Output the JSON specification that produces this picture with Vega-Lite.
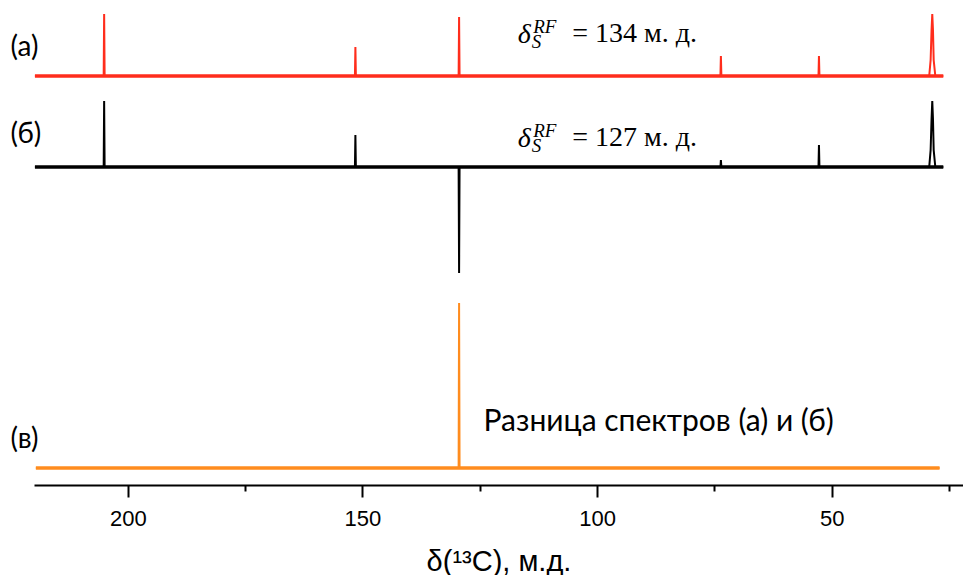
{
  "$schema": "https://vega.github.io/schema/vega-lite/v6.json",
  "width": 929,
  "height": 485,
  "autosize": {"type": "none"},
  "padding": {"left": 34, "top": 0, "right": 0, "bottom": 90},
  "background": "white",
  "config": {"view": {"stroke": null}},
  "datasets": {
    "spectra": [
      {"series": "a", "ppm": 219.8, "intensity": 409},
      {"series": "a", "ppm": 205.15, "intensity": 409},
      {"series": "a", "ppm": 205.05, "intensity": 471},
      {"series": "a", "ppm": 204.95, "intensity": 409},
      {"series": "a", "ppm": 151.6, "intensity": 409},
      {"series": "a", "ppm": 151.5, "intensity": 438},
      {"series": "a", "ppm": 151.4, "intensity": 409},
      {"series": "a", "ppm": 129.5, "intensity": 409},
      {"series": "a", "ppm": 129.4, "intensity": 468},
      {"series": "a", "ppm": 129.3, "intensity": 409},
      {"series": "a", "ppm": 73.7, "intensity": 409},
      {"series": "a", "ppm": 73.6, "intensity": 429},
      {"series": "a", "ppm": 73.5, "intensity": 409},
      {"series": "a", "ppm": 52.8, "intensity": 409},
      {"series": "a", "ppm": 52.7, "intensity": 429},
      {"series": "a", "ppm": 52.6, "intensity": 409},
      {"series": "a", "ppm": 29.2, "intensity": 409},
      {"series": "a", "ppm": 28.9, "intensity": 425},
      {"series": "a", "ppm": 28.7, "intensity": 455},
      {"series": "a", "ppm": 28.55, "intensity": 471},
      {"series": "a", "ppm": 28.4, "intensity": 455},
      {"series": "a", "ppm": 28.25, "intensity": 425},
      {"series": "a", "ppm": 27.9, "intensity": 409},
      {"series": "a", "ppm": 26.2, "intensity": 409},
      {"series": "b", "ppm": 219.8, "intensity": 318},
      {"series": "b", "ppm": 205.15, "intensity": 318},
      {"series": "b", "ppm": 205.05, "intensity": 384},
      {"series": "b", "ppm": 204.95, "intensity": 318},
      {"series": "b", "ppm": 151.6, "intensity": 318},
      {"series": "b", "ppm": 151.5, "intensity": 350},
      {"series": "b", "ppm": 151.4, "intensity": 318},
      {"series": "b", "ppm": 129.5, "intensity": 318},
      {"series": "b", "ppm": 129.4, "intensity": 212},
      {"series": "b", "ppm": 129.3, "intensity": 318},
      {"series": "b", "ppm": 73.7, "intensity": 318},
      {"series": "b", "ppm": 73.6, "intensity": 325},
      {"series": "b", "ppm": 73.5, "intensity": 318},
      {"series": "b", "ppm": 52.8, "intensity": 318},
      {"series": "b", "ppm": 52.7, "intensity": 340},
      {"series": "b", "ppm": 52.6, "intensity": 318},
      {"series": "b", "ppm": 29.2, "intensity": 318},
      {"series": "b", "ppm": 28.9, "intensity": 335},
      {"series": "b", "ppm": 28.7, "intensity": 366},
      {"series": "b", "ppm": 28.55, "intensity": 384},
      {"series": "b", "ppm": 28.4, "intensity": 366},
      {"series": "b", "ppm": 28.25, "intensity": 335},
      {"series": "b", "ppm": 27.9, "intensity": 318},
      {"series": "b", "ppm": 26.2, "intensity": 318},
      {"series": "c", "ppm": 219.6, "intensity": 17},
      {"series": "c", "ppm": 129.5, "intensity": 17},
      {"series": "c", "ppm": 129.4, "intensity": 182},
      {"series": "c", "ppm": 129.3, "intensity": 17},
      {"series": "c", "ppm": 27.0, "intensity": 17}
    ],
    "baselines": [
      {"series": "a", "start": 219.8, "end": 26.2, "intensity": 409},
      {"series": "b", "start": 219.8, "end": 26.2, "intensity": 318},
      {"series": "c", "start": 219.6, "end": 27.0, "intensity": 17}
    ],
    "labels": [
      {"label": "(а)", "ppm": 225, "intensity": 437},
      {"label": "(б)", "ppm": 225, "intensity": 350},
      {"label": "(в)", "ppm": 225, "intensity": 45}
    ],
    "note": [
      {"label": "Разница спектров (а) и (б)", "ppm": 124.2, "intensity": 63}
    ],
    "formulaMain": [
      {"label": "δ", "ppm": 116.9, "intensity": 442},
      {"label": "δ", "ppm": 116.9, "intensity": 338}
    ],
    "formulaSup": [
      {"label": "RF", "ppm": 113.6, "intensity": 452},
      {"label": "RF", "ppm": 113.6, "intensity": 348}
    ],
    "formulaSub": [
      {"label": "S", "ppm": 113.9, "intensity": 437},
      {"label": "S", "ppm": 113.9, "intensity": 333}
    ],
    "formulaValue": [
      {"label": "= 134 м. д.", "ppm": 105.3, "intensity": 443},
      {"label": "= 127 м. д.", "ppm": 105.3, "intensity": 339}
    ]
  },
  "layer": [
    {
      "data": {"name": "baselines"},
      "mark": {"type": "rule", "strokeWidth": 3.5},
      "encoding": {
        "x": {
          "field": "start", "type": "quantitative",
          "scale": {"domain": [220, 22], "nice": false, "zero": false},
          "axis": {
            "orient": "bottom",
            "values": [175, 125, 75, 25],
            "tickSize": 6,
            "tickWidth": 2,
            "tickColor": "#000000",
            "labels": false,
            "domain": false,
            "grid": false,
            "title": null
          }
        },
        "x2": {"field": "end"},
        "y": {"field": "intensity", "type": "quantitative", "scale": {"domain": [0, 485], "nice": false}, "axis": null},
        "color": {"field": "series", "type": "nominal", "scale": {"domain": ["a", "b", "c"], "range": ["#ff2d1c", "#000000", "#ff8c1e"]}, "legend": null}
      }
    },
    {
      "data": {"name": "spectra"},
      "mark": {"type": "line", "strokeWidth": 2, "interpolate": "linear"},
      "encoding": {
        "x": {
          "field": "ppm", "type": "quantitative",
          "scale": {"domain": [220, 22], "nice": false, "zero": false},
          "axis": {
            "orient": "bottom",
            "values": [200, 150, 100, 50],
            "tickSize": 12,
            "tickWidth": 2,
            "tickColor": "#000000",
            "domainColor": "#000000",
            "domainWidth": 2,
            "grid": false,
            "labelFont": "Liberation Sans",
            "labelFontSize": 22,
            "labelColor": "#000000",
            "labelPadding": 11,
            "labelFlush": false,
            "title": "δ(¹³C), м.д.",
            "titleFont": "Liberation Sans",
            "titleFontSize": 29,
            "titleFontWeight": "normal",
            "titleColor": "#000000",
            "titlePadding": 18
          }
        },
        "y": {"field": "intensity", "type": "quantitative", "scale": {"domain": [0, 485], "nice": false}, "axis": null},
        "color": {"field": "series", "type": "nominal", "scale": {"domain": ["a", "b", "c"], "range": ["#ff2d1c", "#000000", "#ff8c1e"]}, "legend": null},
        "detail": {"field": "series", "type": "nominal"}
      }
    },
    {
      "data": {"name": "labels"},
      "mark": {"type": "text", "align": "left", "baseline": "middle", "font": "Lato", "fontSize": 28, "color": "#000000"},
      "encoding": {
        "x": {"field": "ppm", "type": "quantitative", "axis": null},
        "y": {"field": "intensity", "type": "quantitative", "axis": null},
        "text": {"field": "label", "type": "nominal"}
      }
    },
    {
      "data": {"name": "note"},
      "mark": {"type": "text", "align": "left", "baseline": "middle", "font": "Lato", "fontSize": 30, "color": "#000000"},
      "encoding": {
        "x": {"field": "ppm", "type": "quantitative", "axis": null},
        "y": {"field": "intensity", "type": "quantitative", "axis": null},
        "text": {"field": "label", "type": "nominal"}
      }
    },
    {
      "data": {"name": "formulaMain"},
      "mark": {"type": "text", "align": "left", "baseline": "alphabetic", "font": "Liberation Serif", "fontStyle": "italic", "fontSize": 28, "color": "#000000"},
      "encoding": {
        "x": {"field": "ppm", "type": "quantitative", "axis": null},
        "y": {"field": "intensity", "type": "quantitative", "axis": null},
        "text": {"field": "label", "type": "nominal"}
      }
    },
    {
      "data": {"name": "formulaSup"},
      "mark": {"type": "text", "align": "left", "baseline": "alphabetic", "font": "Liberation Serif", "fontStyle": "italic", "fontSize": 19, "color": "#000000"},
      "encoding": {
        "x": {"field": "ppm", "type": "quantitative", "axis": null},
        "y": {"field": "intensity", "type": "quantitative", "axis": null},
        "text": {"field": "label", "type": "nominal"}
      }
    },
    {
      "data": {"name": "formulaSub"},
      "mark": {"type": "text", "align": "left", "baseline": "alphabetic", "font": "Liberation Serif", "fontStyle": "italic", "fontSize": 19, "color": "#000000"},
      "encoding": {
        "x": {"field": "ppm", "type": "quantitative", "axis": null},
        "y": {"field": "intensity", "type": "quantitative", "axis": null},
        "text": {"field": "label", "type": "nominal"}
      }
    },
    {
      "data": {"name": "formulaValue"},
      "mark": {"type": "text", "align": "left", "baseline": "alphabetic", "font": "Liberation Serif", "fontSize": 28, "color": "#000000"},
      "encoding": {
        "x": {"field": "ppm", "type": "quantitative", "axis": null},
        "y": {"field": "intensity", "type": "quantitative", "axis": null},
        "text": {"field": "label", "type": "nominal"}
      }
    }
  ],
  "resolve": {"axis": {"x": "independent"}}
}
